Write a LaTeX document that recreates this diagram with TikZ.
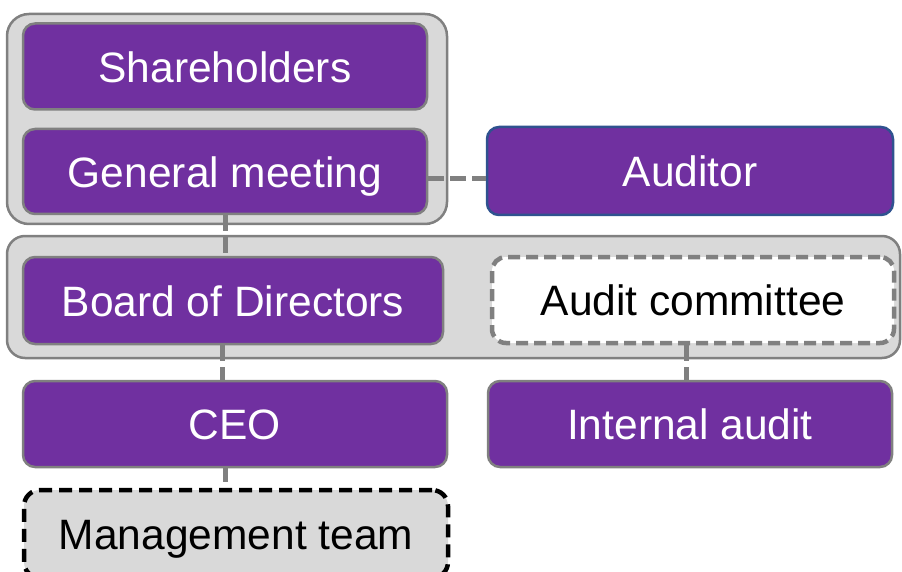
\documentclass[tikz,border=0pt]{standalone}
\usepackage{fontspec}
\setmainfont{Liberation Sans}
\definecolor{purp}{HTML}{7030A0}
\definecolor{bord}{HTML}{808080}
\definecolor{grpfill}{HTML}{D9D9D9}
\definecolor{audbord}{HTML}{2F528F}
\tikzset{
  txt/.style={inner sep=0pt, text height=31.5pt, text depth=0pt, font=\fontsize{42.5}{49}\selectfont},
  grp/.style={draw=bord, fill=grpfill, line width=2.5pt, rounded corners=22pt},
  pbox/.style={txt, draw=bord, fill=purp, line width=2.5pt, rounded corners=12pt, text=white},
  dbox/.style={txt, draw=bord, fill=white, line width=4.5pt, rounded corners=14pt, dash pattern=on 12pt off 6pt, text=black},
  mbox/.style={txt, draw=black, fill=grpfill, line width=4.5pt, rounded corners=16pt, dash pattern=on 13pt off 7pt, text=black},
  conn/.style={draw=bord, line width=5pt, dash pattern=on 16pt off 6pt},
}
\begin{document}
\begin{tikzpicture}[x=1pt,y=-1pt]
\useasboundingbox (0,0) rectangle (902,572);
\clip (0,0) rectangle (902,572);
% groups
\draw[grp] (7,14) rectangle (447,224);
\draw[grp, rounded corners=18pt] (7,236) rectangle (900,358);
% boxes
\node[pbox, minimum width=404pt, minimum height=86pt] (sh) at (225,66.5) {Shareholders};
\node[pbox, minimum width=404pt, minimum height=85pt] (gm) at (225,171.5) {General meeting};
\node[pbox, draw=audbord, minimum width=406pt, minimum height=88pt] (aud) at (690,171) {Auditor};
\node[pbox, minimum width=420pt, minimum height=87pt] (bod) at (233,300.5) {Board of Directors};
\node[dbox, minimum width=402pt, minimum height=86pt] (ac) at (693,300) {Audit committee};
\node[pbox, minimum width=424pt, minimum height=86pt] (ceo) at (235,424) {CEO};
\node[pbox, minimum width=404pt, minimum height=86pt] (ia) at (690,424) {Internal audit};
\node[mbox, minimum width=424pt, minimum height=88pt] (mt) at (236,534) {Management team};
% connectors
\draw[conn] (gm.east) ++(0,7) coordinate (ge) -- (ge -| aud.west);
\draw[conn] (gm.south) -- (gm.south |- bod.north);
\draw[conn] (bod.south) ++(-11,0) coordinate (bs) -- (bs |- ceo.north);
\draw[conn] (ceo.south) ++(-10,0) coordinate (cs) -- ([yshift=6pt]cs |- mt.north);
\draw[conn] (ac.south) ++(-7,0) coordinate (as) -- (as |- ia.north);
\end{tikzpicture}
\end{document}
